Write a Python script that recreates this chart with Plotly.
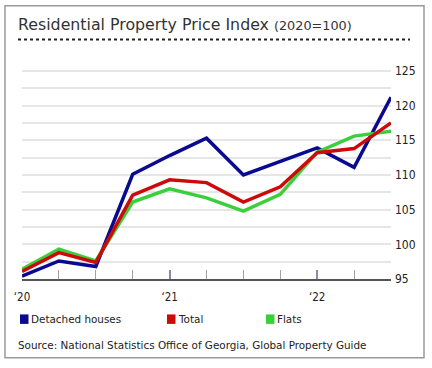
import plotly.graph_objects as go

quarters = ["2020Q1","2020Q2","2020Q3","2020Q4","2021Q1","2021Q2","2021Q3","2021Q4","2022Q1","2022Q2","2022Q3"]
detached = [95.4, 97.6, 96.8, 110.1, 112.8, 115.3, 110.0, 111.9, 113.9, 111.1, 121.2]
total    = [96.1, 98.8, 97.4, 107.1, 109.3, 108.9, 106.1, 108.3, 113.2, 113.8, 117.5]
flats    = [96.4, 99.3, 97.6, 106.1, 108.0, 106.7, 104.8, 107.2, 113.3, 115.6, 116.3]
year_tick_pos = [0, 4, 8]
year_tick_text = ["\u201820", "\u201821", "\u201822"]
y_ticks = [95, 100, 105, 110, 115, 120, 125]

W, H = 432, 368
L, R = 22, 391          # plot area pixels
T, B = 63.5, 279
FONT = "Tahoma, 'DejaVu Sans', sans-serif"
NUMFONT = "'DejaVu Sans Condensed', 'DejaVu Sans', sans-serif"

def px(x):
    return (x - L) / (R - L)

def py(y):
    return (B - y) / (B - T)

xs = list(range(len(quarters)))
fig = go.Figure()
fig.add_trace(go.Scatter(x=xs, y=detached, mode="lines", name="Detached houses",
                         line=dict(color="#0a0a90", width=3.5)))
fig.add_trace(go.Scatter(x=xs, y=flats, mode="lines", name="Flats",
                         line=dict(color="#3ccf3c", width=3.5)))
fig.add_trace(go.Scatter(x=xs, y=total, mode="lines", name="Total",
                         line=dict(color="#cc0a0a", width=3.5)))

shapes = []
shapes.append(dict(type="rect", xref="paper", yref="paper",
                   x0=px(5), x1=px(424), y0=py(5), y1=py(358),
                   line=dict(color="#9a9a9a", width=1.5), layer="below"))
shapes.append(dict(type="line", xref="paper", yref="paper",
                   x0=px(18), x1=px(410), y0=py(39), y1=py(39),
                   line=dict(color="#222222", width=2, dash="dot")))

annotations = [
    dict(text="Residential Property Price Index <span style='font-size:12.8px'>(2020=100)</span>",
         xref="paper", yref="paper", x=px(16), y=py(24), xanchor="left", yanchor="middle",
         showarrow=False, font=dict(family=FONT, size=15.8, color="#333333")),
    dict(text="Source: National Statistics Office of Georgia, Global Property Guide",
         xref="paper", yref="paper", x=px(16), y=py(345), xanchor="left", yanchor="middle",
         showarrow=False, font=dict(family=FONT, size=10.4, color="#222222")),
]

legend_items = [("Detached houses", "#0a0a90", 20), ("Total", "#cc0a0a", 167), ("Flats", "#3ccf3c", 266)]
for name, col, x0 in legend_items:
    shapes.append(dict(type="rect", xref="paper", yref="paper",
                       x0=px(x0), x1=px(x0 + 8.5), y0=py(324), y1=py(314.5),
                       line=dict(width=0), fillcolor=col))
    annotations.append(dict(text=name, xref="paper", yref="paper", x=px(x0 + 9), y=py(319.5),
                            xanchor="left", yanchor="middle", showarrow=False,
                            font=dict(family=FONT, size=10.4, color="#222222")))

fig.update_layout(
    width=W, height=H, autosize=False,
    margin=dict(l=L, r=W - R, t=T, b=H - B, pad=0),
    paper_bgcolor="white", plot_bgcolor="white",
    showlegend=False,
    shapes=shapes, annotations=annotations,
    font=dict(family=FONT, size=11, color="#222222"),
    xaxis=dict(range=[0, 10], tickmode="array", tickvals=year_tick_pos, ticktext=year_tick_text,
               ticks="inside", ticklen=9, tickwidth=1.5, tickcolor="#8a8aa8",
               ticklabelstandoff=6,
               showgrid=False, zeroline=False, showline=True, linecolor="#555555", linewidth=2,
               minor=dict(tickmode="linear", tick0=0, dtick=1, ticks="inside", ticklen=9,
                          tickcolor="#a0a0b0", tickwidth=1, showgrid=False),
               tickfont=dict(family=NUMFONT, size=11.5, color="#222222"), fixedrange=True),
    yaxis=dict(range=[95, 126], side="right", tickmode="array", tickvals=y_ticks,
               ticks="", showgrid=True, gridcolor="#e6e6e6", gridwidth=1.5, zeroline=False,
               showline=False, ticklabelstandoff=3,
               minor=dict(tickmode="linear", tick0=95, dtick=2.5, showgrid=True,
                          gridcolor="#e6e6e6", gridwidth=1.5),
               tickfont=dict(family=NUMFONT, size=12, color="#222222"), fixedrange=True),
)

fig.write_html("out.html", config={"displayModeBar": False},
               post_script="document.body.style.margin='0px';document.body.style.padding='0px';")
